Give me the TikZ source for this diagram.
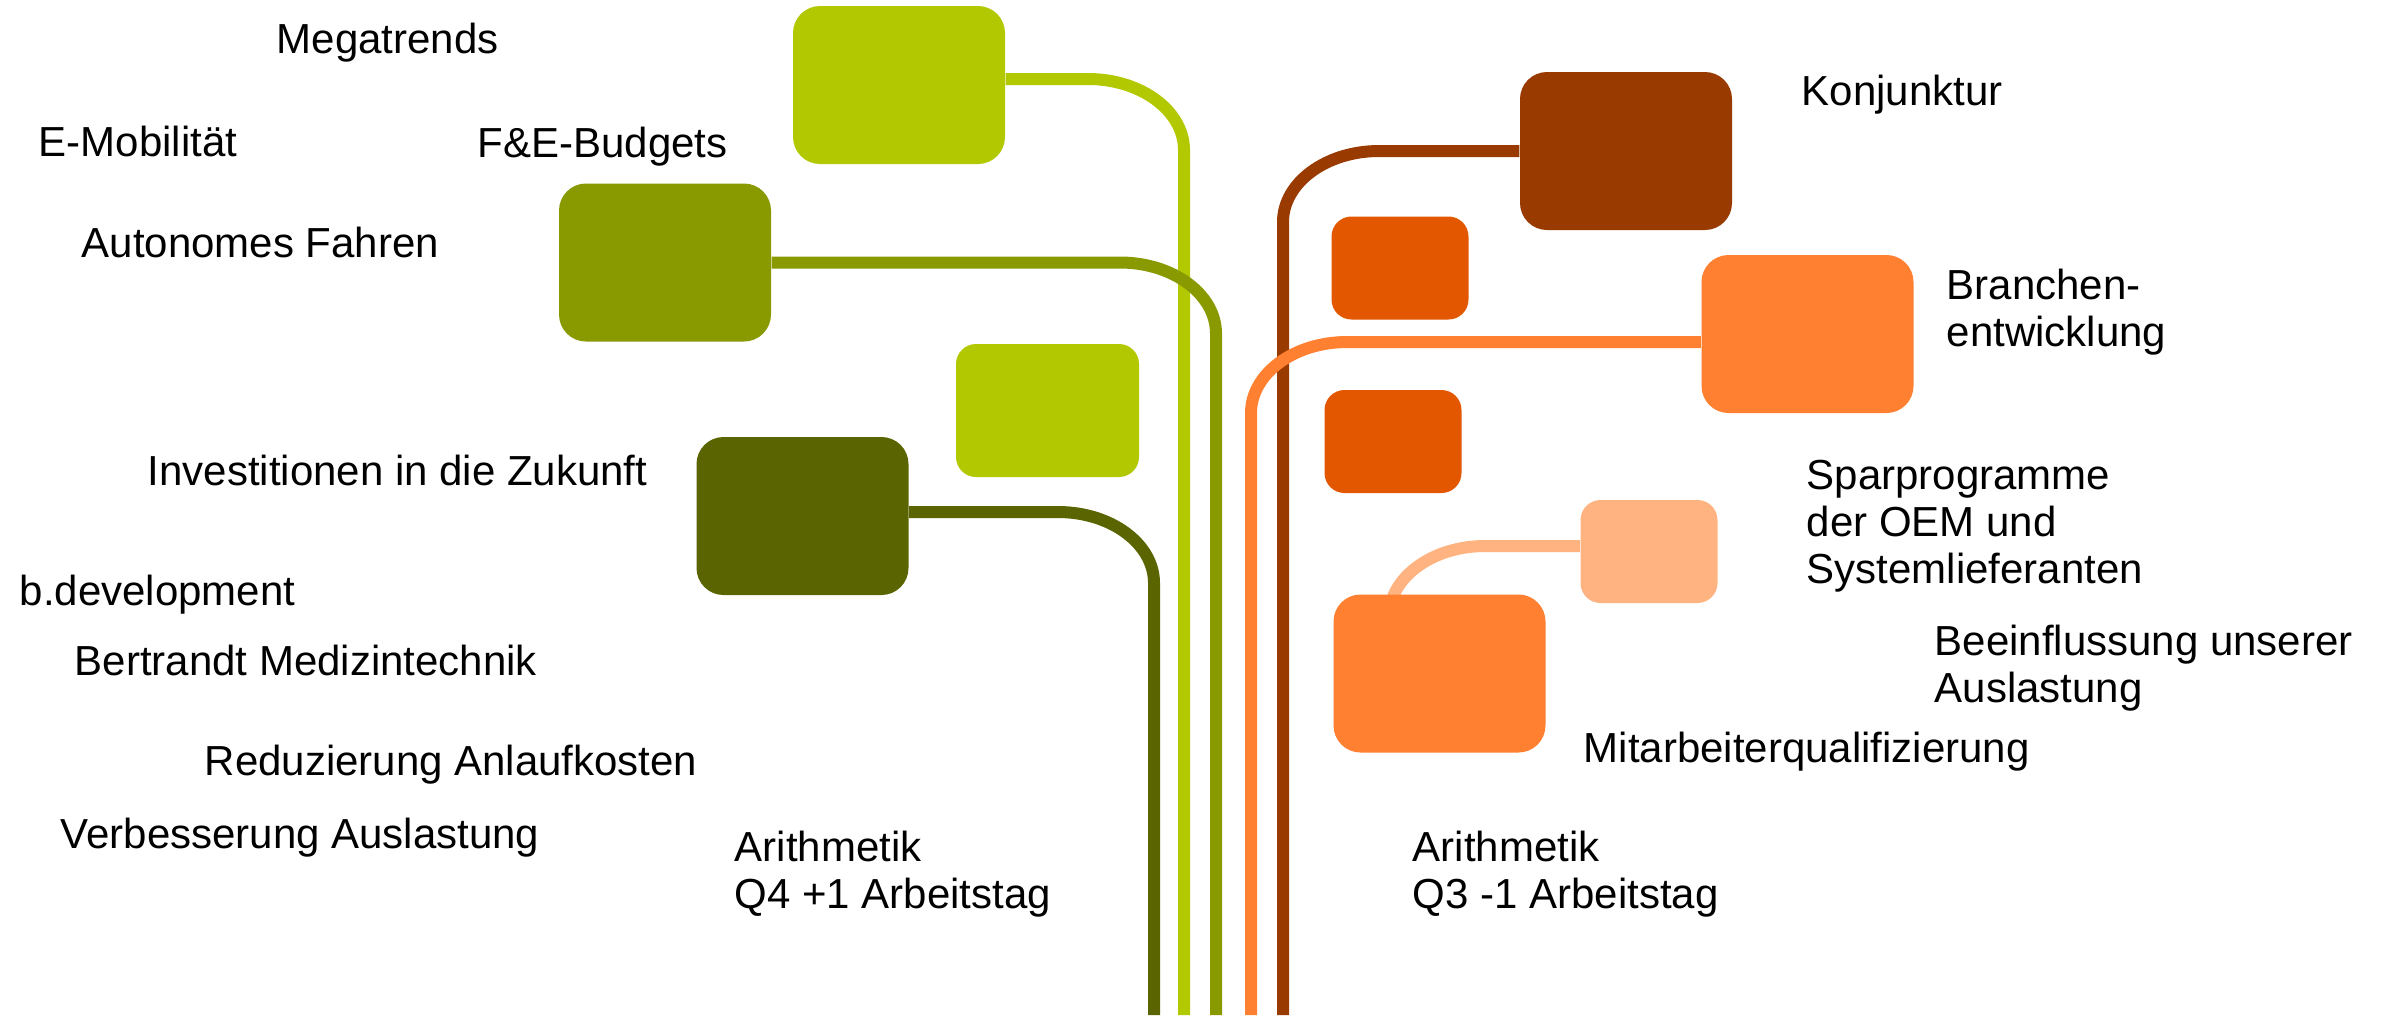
\documentclass[tikz,border=0pt]{standalone}
\usepackage{fontspec}
\setmainfont{Liberation Sans}
\usetikzlibrary{calc,backgrounds}
\definecolor{limegr}{RGB}{178,200,0}
\definecolor{olivegr}{RGB}{137,153,0}
\definecolor{darkgr}{RGB}{90,100,0}
\definecolor{brownor}{RGB}{153,58,0}
\definecolor{darkor}{RGB}{226,87,0}
\definecolor{midor}{RGB}{255,128,48}
\definecolor{peachor}{RGB}{255,179,128}

\begin{document}
\begin{tikzpicture}[
  bx/.style={rounded corners=2.7mm,inner sep=0pt,minimum width=21.2mm,minimum height=15.8mm},
  sbx/.style={rounded corners=2mm,inner sep=0pt,minimum width=13.7mm,minimum height=10.3mm},
  ln/.style={line width=1.2mm},
  lab/.style={anchor=base west,inner sep=0pt,align=left,font=\fontsize{11.95}{13.3}\selectfont}]
\useasboundingbox (0,0) rectangle (23.87,-10.15);
% boxes
\node[bx,fill=limegr] (mega) at (8.99,-0.85) {};
\node[bx,fill=olivegr] (fue) at (6.65,-2.625) {};
\node[sbx,fill=limegr,minimum width=18.3mm,minimum height=13.3mm] (lim2) at (10.475,-4.105) {};
\node[bx,fill=darkgr] (inv) at (8.025,-5.16) {};
\node[bx,fill=brownor] (konj) at (16.26,-1.51) {};
\node[sbx,fill=darkor] (dor1) at (14.0,-2.68) {};
\node[bx,fill=midor] (bra) at (18.075,-3.34) {};
\node[sbx,fill=darkor] (dor2) at (13.93,-4.415) {};
\node[sbx,fill=peachor] (spar) at (16.49,-5.515) {};
\node[bx,fill=midor] (mit) at (14.395,-6.735) {};
% feet of the lines
\coordinate (limefoot) at (11.84,-10.15);
\coordinate (olfoot) at (12.16,-10.15);
\coordinate (dkfoot) at (11.54,-10.15);
\coordinate (orfoot) at (12.51,-10.15);
\coordinate (brfoot) at (12.83,-10.15);
\coordinate (pefoot) at (13.89,-6.4);
% lines
\begin{scope}[on background layer]
\draw[ln,limegr] ([yshift=0.6mm]mega.east) -- ($(mega.east -| limefoot)+(-9.6mm,0.6mm)$) arc[start angle=90,end angle=0,x radius=9.6mm,y radius=7.1mm] -- (limefoot);
\draw[ln,olivegr] (fue.east) -- ($(fue.east -| olfoot)+(-9.6mm,0)$) arc[start angle=90,end angle=0,x radius=9.6mm,y radius=7.1mm] -- (olfoot);
\draw[ln,darkgr] ([yshift=0.4mm]inv.east) -- ($(inv.east -| dkfoot)+(-9.6mm,0.4mm)$) arc[start angle=90,end angle=0,x radius=9.6mm,y radius=7.1mm] -- (dkfoot);
\draw[ln,brownor] (konj.west) -- ($(konj.west -| brfoot)+(9.6mm,0)$) arc[start angle=90,end angle=180,x radius=9.6mm,y radius=7.1mm] -- (brfoot);
\draw[ln,midor] ([yshift=-0.8mm]bra.west) -- ($(bra.west -| orfoot)+(9.6mm,-0.8mm)$) arc[start angle=90,end angle=180,x radius=9.6mm,y radius=7.1mm] -- (orfoot);
\draw[ln,peachor] ([yshift=0.55mm]spar.west) -- ($(spar.west -| pefoot)+(9.6mm,0.55mm)$) arc[start angle=90,end angle=180,x radius=9.6mm,y radius=7.1mm] -- (pefoot);
\end{scope}
% labels (multi-line ones sit on their last line)
\node[lab] (tmega) at (2.76,-0.53) {Megatrends};
\node[lab] (temob) at (0.38,-1.56) {E-Mobilität};
\node[lab] (tfue) at (4.77,-1.57) {F\&E-Budgets};
\node[lab] (tauto) at (0.81,-2.57) {Autonomes Fahren};
\node[lab] (tinv) at (1.47,-4.85) {Investitionen in die Zukunft};
\node[lab] (tbdev) at (0.19,-6.05) {b.development};
\node[lab] (tmed) at (0.74,-6.75) {Bertrandt Medizintechnik};
\node[lab] (tanl) at (2.04,-7.75) {Reduzierung Anlaufkosten};
\node[lab] (taus) at (0.60,-8.48) {Verbesserung Auslastung};
\node[lab] (tq4) at (7.34,-9.08) {Arithmetik\\Q4 +1 Arbeitstag};
\node[lab] (tq3) at (14.12,-9.08) {Arithmetik\\Q3 -1 Arbeitstag};
\node[lab] (tkonj) at (18.01,-1.05) {Konjunktur};
\node[lab] (tbra) at (19.46,-3.46) {Branchen-\\entwicklung};
\node[lab] (tspar) at (18.06,-5.83) {Sparprogramme\\der OEM und\\Systemlieferanten};
\node[lab] (tbee) at (19.34,-7.02) {Beeinflussung unserer\\Auslastung};
\node[lab] (tmit) at (15.83,-7.62) {Mitarbeiterqualifizierung};
\end{tikzpicture}
\end{document}
